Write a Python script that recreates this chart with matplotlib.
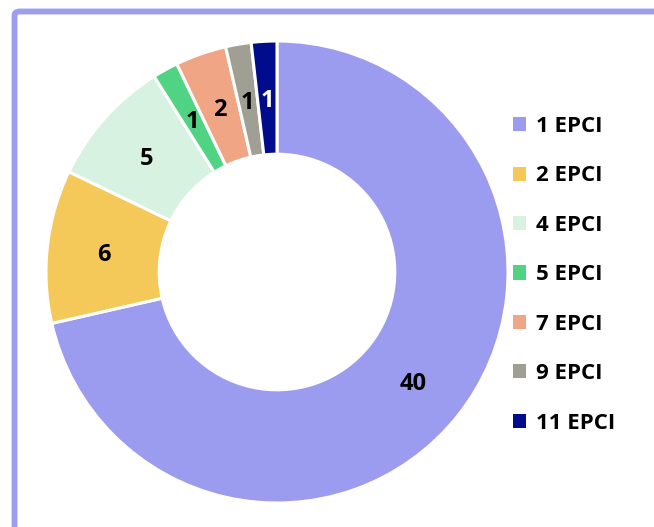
import matplotlib
matplotlib.use("Agg")
import matplotlib.pyplot as plt
from matplotlib.patches import FancyBboxPatch

categories = ["1 EPCI", "2 EPCI", "4 EPCI", "5 EPCI", "7 EPCI", "9 EPCI", "11 EPCI"]
values = [40, 6, 5, 1, 2, 1, 1]
colors = ["#9b9bf0", "#f4c95a", "#d7f2e1", "#50d484", "#f0a585", "#a09f93", "#000c8c"]
label_colors = ["black"] * 6 + ["white"]

plt.rcParams['font.family'] = ['Open Sans', 'DejaVu Sans']

fig = plt.figure(figsize=(6.54, 5.27), dpi=100)
W, H = 654, 527

# frame
frame = FancyBboxPatch((14.5 / W, -0.2), 1.2, (H - 11.5) / H + 0.2,
                       boxstyle="round,pad=0,rounding_size=0.008",
                       transform=fig.transFigure, facecolor="none",
                       edgecolor="#9d9df0", linewidth=4.2, clip_on=False)
fig.patches.append(frame)

cx, cy, r = 277, 272, 231
ax = fig.add_axes([(cx - r) / W, (H - cy - r) / H, 2 * r / W, 2 * r / H])
wedges, texts = ax.pie(values, colors=colors, startangle=90, counterclock=False,
                       radius=1.0,
                       wedgeprops=dict(width=0.49, edgecolor="white", linewidth=2.2),
                       labels=[str(v) for v in values], labeldistance=0.755)
for t, c in zip(texts, label_colors):
    t.set_color(c)
    t.set_fontsize(17)
    t.set_fontweight("bold")
    t.set_ha("center")
    t.set_va("center_baseline")
ax.set_xlim(-1, 1)
ax.set_ylim(-1, 1)
ax.set_aspect("equal")
ax.axis("off")

leg = fig.legend(wedges, categories, loc="upper left",
                 bbox_to_anchor=(513 / W, (H - 116) / H),
                 frameon=False, prop=dict(size=16, weight="bold"),
                 handlelength=0.6, handleheight=0.6, handletextpad=0.42,
                 labelspacing=1.28, borderpad=0, borderaxespad=0)
for h in leg.legend_handles:
    h.set_edgecolor("none")

fig.savefig("out.png", dpi=100)
